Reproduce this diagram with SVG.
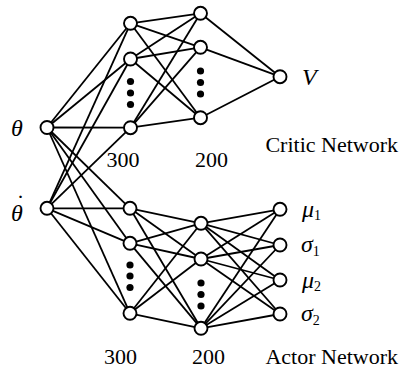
<svg xmlns="http://www.w3.org/2000/svg" width="399" height="369" viewBox="0 0 399 369">
<style>
.e line{stroke:#000;stroke-width:1.8}
.n{fill:#fff;stroke:#000;stroke-width:1.9}
.d{fill:#000}
.lbl{font-family:"Liberation Serif","Times New Roman",serif;font-size:22px;fill:#000}
.sym{font-family:"Liberation Serif","Times New Roman",serif;font-style:italic;font-size:24px;fill:#000}
.sub{font-family:"Liberation Serif","Times New Roman",serif;font-style:normal;font-size:14px;fill:#000}
</style>
<rect width="399" height="369" fill="#fff"/>
<g id="connectors" class="e">
<line x1="47" y1="127.5" x2="130.5" y2="23.3"/>
<line x1="47" y1="127.5" x2="130.5" y2="59"/>
<line x1="47" y1="127.5" x2="130.5" y2="127.7"/>
<line x1="47" y1="208.3" x2="130.5" y2="23.3"/>
<line x1="47" y1="208.3" x2="130.5" y2="59"/>
<line x1="47" y1="208.3" x2="130.5" y2="127.7"/>
<line x1="47" y1="127.5" x2="130" y2="208.3"/>
<line x1="47" y1="127.5" x2="130" y2="243.3"/>
<line x1="47" y1="127.5" x2="130" y2="313.3"/>
<line x1="47" y1="208.3" x2="130" y2="208.3"/>
<line x1="47" y1="208.3" x2="130" y2="243.3"/>
<line x1="47" y1="208.3" x2="130" y2="313.3"/>
<line x1="130.5" y1="23.3" x2="200.5" y2="13.3"/>
<line x1="130.5" y1="23.3" x2="200.5" y2="47.3"/>
<line x1="130.5" y1="23.3" x2="200.5" y2="117.7"/>
<line x1="130.5" y1="59" x2="200.5" y2="13.3"/>
<line x1="130.5" y1="59" x2="200.5" y2="47.3"/>
<line x1="130.5" y1="59" x2="200.5" y2="117.7"/>
<line x1="130.5" y1="127.7" x2="200.5" y2="13.3"/>
<line x1="130.5" y1="127.7" x2="200.5" y2="47.3"/>
<line x1="130.5" y1="127.7" x2="200.5" y2="117.7"/>
<line x1="200.5" y1="13.3" x2="280" y2="76.7"/>
<line x1="200.5" y1="47.3" x2="280" y2="76.7"/>
<line x1="200.5" y1="117.7" x2="280" y2="76.7"/>
<line x1="130" y1="208.3" x2="201" y2="223.3"/>
<line x1="130" y1="208.3" x2="201" y2="259"/>
<line x1="130" y1="208.3" x2="201" y2="328.3"/>
<line x1="130" y1="243.3" x2="201" y2="223.3"/>
<line x1="130" y1="243.3" x2="201" y2="259"/>
<line x1="130" y1="243.3" x2="201" y2="328.3"/>
<line x1="130" y1="313.3" x2="201" y2="223.3"/>
<line x1="130" y1="313.3" x2="201" y2="259"/>
<line x1="130" y1="313.3" x2="201" y2="328.3"/>
<line x1="201" y1="223.3" x2="280" y2="209.3"/>
<line x1="201" y1="223.3" x2="280" y2="245"/>
<line x1="201" y1="223.3" x2="280" y2="280"/>
<line x1="201" y1="223.3" x2="280" y2="314"/>
<line x1="201" y1="259" x2="280" y2="209.3"/>
<line x1="201" y1="259" x2="280" y2="245"/>
<line x1="201" y1="259" x2="280" y2="280"/>
<line x1="201" y1="259" x2="280" y2="314"/>
<line x1="201" y1="328.3" x2="280" y2="209.3"/>
<line x1="201" y1="328.3" x2="280" y2="245"/>
<line x1="201" y1="328.3" x2="280" y2="280"/>
<line x1="201" y1="328.3" x2="280" y2="314"/>
</g>
<g id="in-theta"><circle class="n" cx="47" cy="127.5" r="6.5"/><text class="sym" x="11" y="136">θ</text></g>
<g id="in-thetadot"><circle class="n" cx="47" cy="208.3" r="6.5"/><text class="sym" x="11" y="221">θ<tspan x="15" y="211">˙</tspan></text></g>
<g id="critic-l1">
<circle class="n" cx="130.5" cy="23.3" r="6.5"/>
<circle class="n" cx="130.5" cy="59" r="6.5"/>
<circle class="d" cx="130.5" cy="81.5" r="3.6"/>
<circle class="d" cx="130.5" cy="93" r="3.6"/>
<circle class="d" cx="130.5" cy="104.5" r="3.6"/>
<circle class="n" cx="130.5" cy="127.7" r="6.5"/>
<text class="lbl" x="123" y="167" text-anchor="middle">300</text>
</g>
<g id="critic-l2">
<circle class="n" cx="200.5" cy="13.3" r="6.5"/>
<circle class="n" cx="200.5" cy="47.3" r="6.5"/>
<circle class="d" cx="200.5" cy="71" r="3.6"/>
<circle class="d" cx="200.5" cy="82.5" r="3.6"/>
<circle class="d" cx="200.5" cy="94" r="3.6"/>
<circle class="n" cx="200.5" cy="117.7" r="6.5"/>
<text class="lbl" x="211.5" y="167" text-anchor="middle">200</text>
</g>
<g id="critic-out"><circle class="n" cx="280" cy="76.7" r="6.5"/><text class="sym" x="302" y="85" font-size="22">V</text></g>
<g id="critic-title"><text class="lbl" x="398" y="152" text-anchor="end">Critic Network</text></g>
<g id="actor-l1">
<circle class="n" cx="130" cy="208.3" r="6.5"/>
<circle class="n" cx="130" cy="243.3" r="6.5"/>
<circle class="d" cx="130" cy="265" r="3.6"/>
<circle class="d" cx="130" cy="276" r="3.6"/>
<circle class="d" cx="130" cy="287.5" r="3.6"/>
<circle class="n" cx="130" cy="313.3" r="6.5"/>
<text class="lbl" x="120.5" y="364" text-anchor="middle">300</text>
</g>
<g id="actor-l2">
<circle class="n" cx="201" cy="223.3" r="6.5"/>
<circle class="n" cx="201" cy="259" r="6.5"/>
<circle class="d" cx="201" cy="283" r="3.6"/>
<circle class="d" cx="201" cy="294.5" r="3.6"/>
<circle class="d" cx="201" cy="306" r="3.6"/>
<circle class="n" cx="201" cy="328.3" r="6.5"/>
<text class="lbl" x="208.5" y="364" text-anchor="middle">200</text>
</g>
<g id="actor-mu1"><circle class="n" cx="280" cy="209.3" r="6.5"/><text class="sym" x="302" y="216.5">μ<tspan class="sub" dy="3.5">1</tspan></text></g>
<g id="actor-sigma1"><circle class="n" cx="280" cy="245" r="6.5"/><text class="sym" x="301" y="252">σ<tspan class="sub" dy="4">1</tspan></text></g>
<g id="actor-mu2"><circle class="n" cx="280" cy="280" r="6.5"/><text class="sym" x="302" y="287.5">μ<tspan class="sub" dy="3.5">2</tspan></text></g>
<g id="actor-sigma2"><circle class="n" cx="280" cy="314" r="6.5"/><text class="sym" x="301" y="321">σ<tspan class="sub" dy="4">2</tspan></text></g>
<g id="actor-title"><text class="lbl" x="398" y="364" text-anchor="end">Actor Network</text></g>
</svg>
